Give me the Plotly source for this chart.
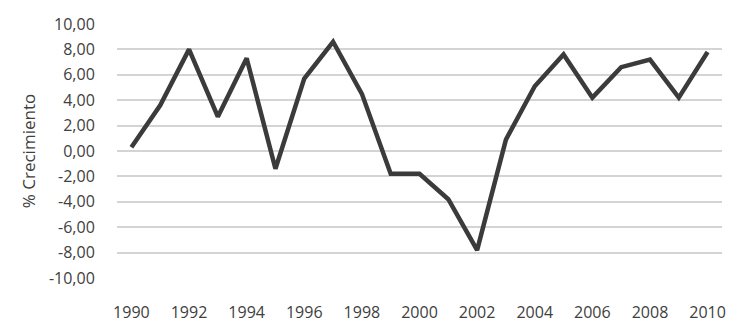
import plotly.graph_objects as go

years = list(range(1990, 2011))
crecimiento = [0.3, 3.6, 8.0, 2.7, 7.3, -1.4, 5.7, 8.6, 4.5, -1.8, -1.8,
               -3.8, -7.8, 0.9, 5.1, 7.6, 4.2, 6.6, 7.2, 4.2, 7.8]
y_ticks = [-10, -8, -6, -4, -2, 0, 2, 4, 6, 8, 10]
y_ticktext = [f"{v:.2f}".replace(".", ",") for v in y_ticks]
x_ticks = list(range(1990, 2011, 2))

fig = go.Figure(go.Scatter(
    x=years, y=crecimiento, mode="lines",
    line=dict(color="#3b3b3b", width=4.5),
    hoverinfo="skip", showlegend=False,
))

font_family = "Open Sans, Liberation Sans, sans-serif"
fig.update_layout(
    width=744, height=335,
    margin=dict(l=117, r=22, t=24, b=57),
    paper_bgcolor="white", plot_bgcolor="white",
    font=dict(family=font_family, size=16, color="#404040"),
)
fig.update_xaxes(
    range=[1989.5, 2010.5], tickvals=x_ticks, ticktext=[str(x) for x in x_ticks],
    showgrid=False, zeroline=False, showline=False,
    ticks="outside", ticklen=20, tickcolor="rgba(0,0,0,0)",
    tickfont=dict(size=16, color="#404040"),
)
fig.update_yaxes(
    range=[-10, 10], tickvals=y_ticks, ticktext=y_ticktext,
    showgrid=True, gridcolor="#d4d4d4", gridwidth=1.5,
    zeroline=False, showline=False,
    ticks="outside", ticklen=18, tickcolor="rgba(0,0,0,0)",
    tickfont=dict(size=16, color="#404040"),
    title=dict(text="% Crecimiento", font=dict(size=17, color="#404040"), standoff=8),
)

fig.write_html("out.html")
